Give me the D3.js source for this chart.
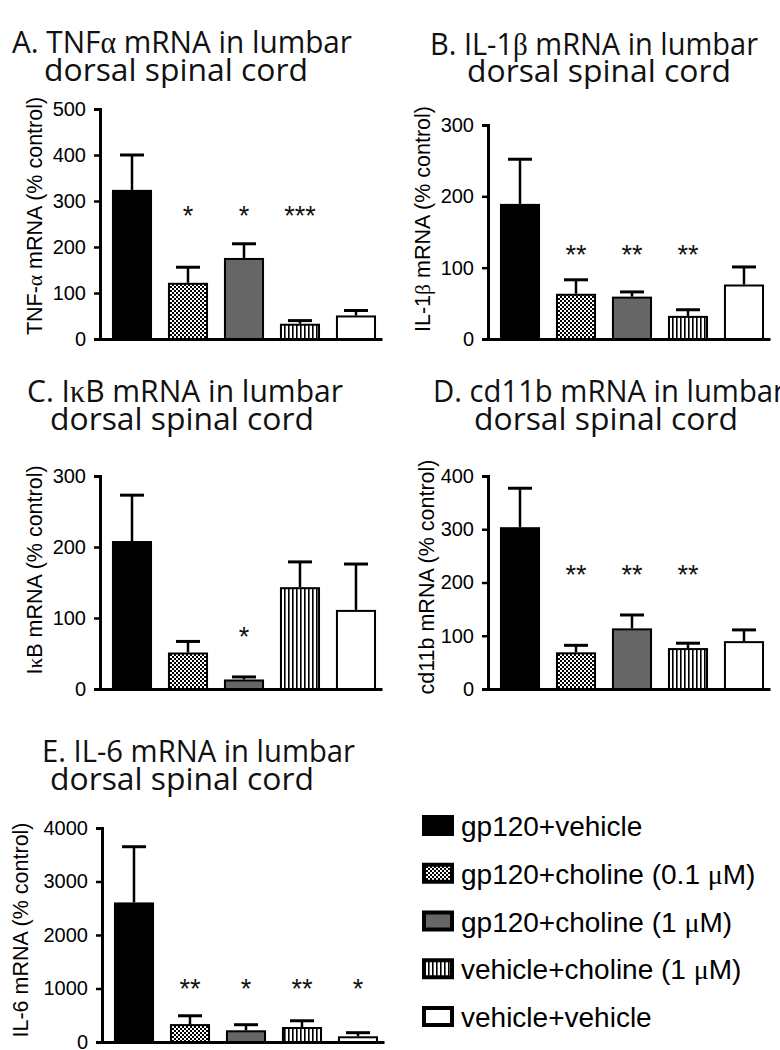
<!DOCTYPE html>
<html><head><meta charset="utf-8">
<script src="https://cdn.jsdelivr.net/npm/d3@7"></script>
<style>body{margin:0;background:#fff} svg{display:block}</style>
</head><body>
<svg id="c" width="780" height="1050"></svg>
<script>
// ---------- data ----------
const groups = ["gp120+vehicle","gp120+choline (0.1 μM)","gp120+choline (1 μM)","vehicle+choline (1 μM)","vehicle+vehicle"];

const tnfMean  = [322, 120, 174, 31, 49];
const tnfErr   = [400, 156, 207, 40, 62];
const tnfStars = ["", "*", "*", "***", ""];
const tnfTicks = [0, 100, 200, 300, 400, 500];

const il1bMean  = [188, 62, 58, 31, 75];
const il1bErr   = [252, 83, 66, 41, 101];
const il1bStars = ["", "**", "**", "**", ""];
const il1bTicks = [0, 100, 200, 300];

const ikbMean  = [207, 50, 12, 142, 110];
const ikbErr   = [273, 67, 17, 179, 176];
const ikbStars = ["", "", "*", "", ""];
const ikbTicks = [0, 100, 200, 300];

const cd11bMean  = [302, 67, 112, 75, 88];
const cd11bErr   = [377, 82, 139, 86, 111];
const cd11bStars = ["", "**", "**", "**", ""];
const cd11bTicks = [0, 100, 200, 300, 400];

const il6Mean  = [2590, 316, 200, 262, 88];
const il6Err   = [3650, 490, 323, 397, 174];
const il6Stars = ["", "**", "*", "**", "*"];
const il6Ticks = [0, 1000, 2000, 3000, 4000];

const titles = [
  ["A. TNFα mRNA in lumbar", "dorsal spinal cord"],
  ["B. IL-1β mRNA in lumbar", "dorsal spinal cord"],
  ["C. IκB mRNA in lumbar", "dorsal spinal cord"],
  ["D. cd11b mRNA in lumbar", "dorsal spinal cord"],
  ["E. IL-6 mRNA in lumbar", "dorsal spinal cord"]
];
const yLabels = ["TNF-α mRNA (% control)", "IL-1β mRNA (% control)", "IκB mRNA (% control)", "cd11b mRNA (% control)", "IL-6 mRNA (% control)"];

// ---------- layout ----------
const layout = [
  {mean: tnfMean, err: tnfErr, stars: tnfStars, ticks: tnfTicks, ax: 100, y0: 339, y1: 109, starAt: 283,
   t: [{x: 12, y: 53, w: 340}, {x: 44, y: 81, w: 264}], lab: {x: 35, y: 216}},
  {mean: il1bMean, err: il1bErr, stars: il1bStars, ticks: il1bTicks, ax: 488, y0: 339, y1: 125, starAt: 128,
   t: [{x: 430, y: 55, w: 328}, {x: 467, y: 82, w: 264}], lab: {x: 423, y: 219}},
  {mean: ikbMean, err: ikbErr, stars: ikbStars, ticks: ikbTicks, ax: 100, y0: 689, y1: 476, starAt: 83,
   t: [{x: 27, y: 402, w: 316}, {x: 50, y: 430, w: 264}], lab: {x: 35, y: 570}},
  {mean: cd11bMean, err: cd11bErr, stars: cd11bStars, ticks: cd11bTicks, ax: 488, y0: 689, y1: 476, starAt: 227,
   t: [{x: 433, y: 402, w: 352}, {x: 474, y: 430, w: 264}], lab: {x: 427, y: 577}},
  {mean: il6Mean, err: il6Err, stars: il6Stars, ticks: il6Ticks, ax: 102, y0: 1042, y1: 828, starAt: 1116,
   t: [{x: 42, y: 762, w: 313}, {x: 50, y: 790, w: 264}], lab: {x: 21, y: 930}}
];

const fills = ["#000", "url(#checker)", "#666", "url(#stripes)", "#fff"];
const svg = d3.select("#c");

// patterns
const defs = svg.append("defs");
const chk = defs.append("pattern").attr("id", "checker").attr("patternUnits", "userSpaceOnUse")
  .attr("width", 4).attr("height", 4);
chk.append("rect").attr("width", 4).attr("height", 4).attr("fill", "#fff");
chk.append("rect").attr("width", 2).attr("height", 2).attr("fill", "#000");
chk.append("rect").attr("x", 2).attr("y", 2).attr("width", 2).attr("height", 2).attr("fill", "#000");
const str = defs.append("pattern").attr("id", "stripes").attr("patternUnits", "userSpaceOnUse")
  .attr("width", 4).attr("height", 4);
str.append("rect").attr("width", 4).attr("height", 4).attr("fill", "#fff");
str.append("rect").attr("width", 1.6).attr("height", 4).attr("fill", "#000");

const greek = /([α-ωμ])/;
function richText(sel, s, greekFamily) {
  s.split(greek).filter(p => p.length).forEach(p => {
    const t = sel.append("tspan").text(p);
    if (greek.test(p)) t.attr("font-family", greekFamily);
  });
}

const SANS = "Liberation Sans, Arial, sans-serif";
const SERIF = "Liberation Serif, Times New Roman, serif";
const TITLE = "Open Sans, DejaVu Sans, sans-serif";

layout.forEach((p, k) => {
  const g = svg.append("g");
  const vmax = p.ticks[p.ticks.length - 1];
  const y = d3.scaleLinear().domain([0, vmax]).range([p.y0, p.y1]);
  const x = d3.scaleBand().domain(d3.range(5)).range([p.ax, p.ax + 282])
    .paddingInner(0.32).paddingOuter(0.178).align(0.65);
  const bw = x.bandwidth();

  // titles
  titles[k].forEach((line, i) => {
    const t = g.append("text").attr("x", p.t[i].x).attr("y", p.t[i].y)
      .attr("font-family", TITLE).attr("font-size", 31).attr("fill", "#111")
      .attr("textLength", p.t[i].w).attr("lengthAdjust", "spacingAndGlyphs");
    richText(t, line, SERIF);
  });

  // y label
  const yl = g.append("text").attr("transform", `translate(${p.lab.x},${p.lab.y}) rotate(-90)`)
    .attr("text-anchor", "middle").attr("dominant-baseline", "central")
    .attr("font-family", SANS).attr("font-size", 21.5).attr("fill", "#000");
  richText(yl, yLabels[k], SERIF);

  // bars
  g.selectAll("rect.bar").data(p.mean).join("rect").attr("class", "bar")
    .attr("x", (d, i) => x(i)).attr("y", d => y(d))
    .attr("width", bw).attr("height", d => p.y0 - y(d))
    .attr("fill", (d, i) => fills[i]).attr("stroke", "#000").attr("stroke-width", 2);

  // error bars
  p.err.forEach((e, i) => {
    const cx = x(i) + bw / 2;
    g.append("line").attr("x1", cx).attr("x2", cx).attr("y1", y(p.mean[i]) - 1).attr("y2", y(e))
      .attr("stroke", "#000").attr("stroke-width", 2.5);
    g.append("line").attr("x1", cx - 12).attr("x2", cx + 12).attr("y1", y(e)).attr("y2", y(e))
      .attr("stroke", "#000").attr("stroke-width", 3);
  });

  // stars
  p.stars.forEach((s, i) => {
    if (!s) return;
    g.append("text").attr("x", x(i) + bw / 2).attr("y", y(p.starAt)).attr("dy", "0.6em")
      .attr("text-anchor", "middle").attr("font-family", SANS).attr("font-size", 27)
      .attr("fill", "#111").text(s);
  });

  // axes
  const ya = g.append("g").attr("transform", `translate(${p.ax},0)`)
    .call(d3.axisLeft(y).tickValues(p.ticks).tickSizeOuter(0).tickSize(6).tickPadding(8).tickFormat(d3.format("d")));
  ya.select(".domain").attr("stroke-width", 3);
  ya.selectAll(".tick line").attr("stroke-width", 2.5);
  ya.selectAll(".tick text").attr("font-family", SANS).attr("font-size", 20).attr("fill", "#000");

  const xa = g.append("g").attr("transform", `translate(0,${p.y0})`)
    .call(d3.axisBottom(x).tickValues([]).tickSizeOuter(0));
  xa.select(".domain").attr("stroke-width", 3);
});

// legend
const ly = d3.scalePoint().domain(groups).range([826, 1017]);
const lg = svg.append("g");
groups.forEach((name, i) => {
  lg.append("rect").attr("x", 424).attr("y", ly(name) - 9).attr("width", 28).attr("height", 17)
    .attr("fill", fills[i]).attr("stroke", "#000").attr("stroke-width", 4);
  const t = lg.append("text").attr("x", 461).attr("y", ly(name)).attr("dominant-baseline", "central")
    .attr("font-family", SANS).attr("font-size", 28).attr("fill", "#000");
  richText(t, name, SERIF);
});
</script>
</body></html>
